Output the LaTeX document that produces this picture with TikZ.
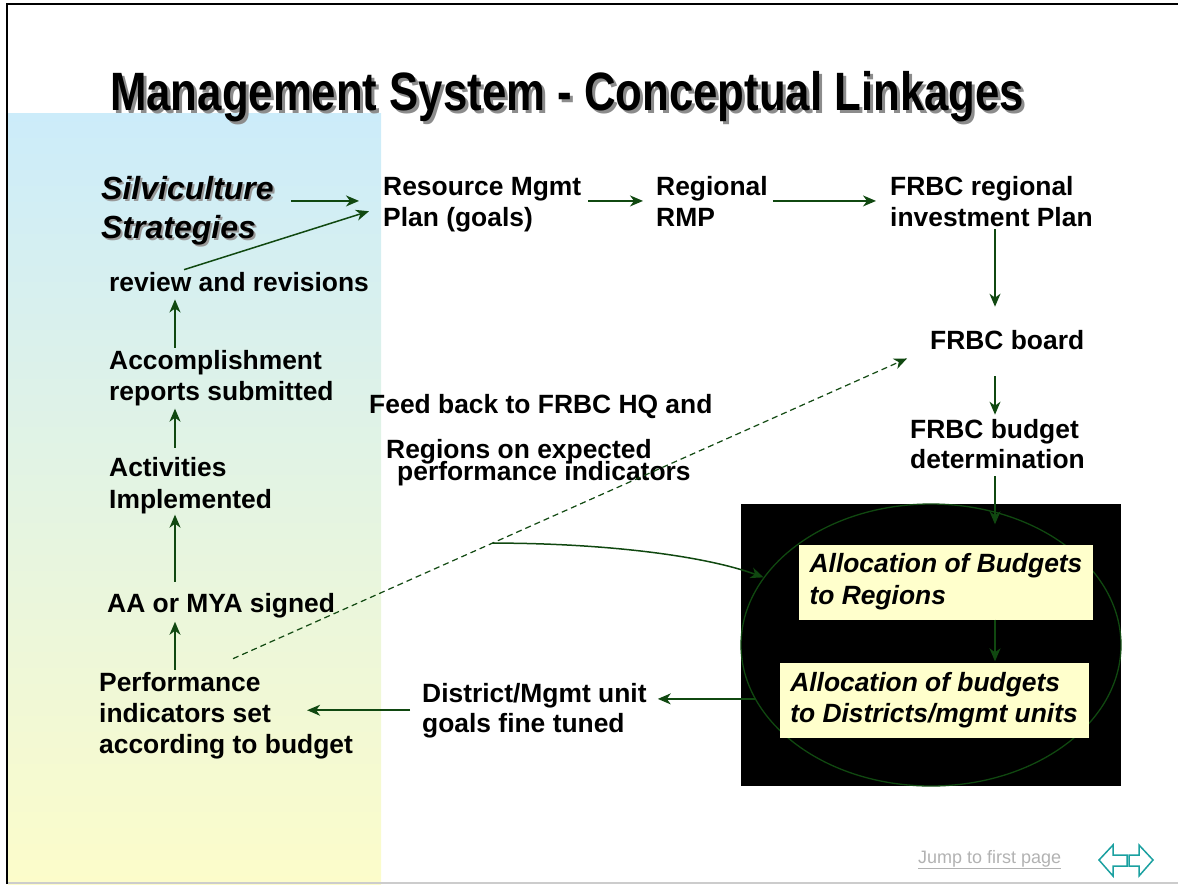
\documentclass[tikz,border=0pt]{standalone}
\usepackage{graphicx}
\usepackage{fontspec}
\setmainfont{Liberation Sans}
\usetikzlibrary{arrows.meta,shapes.geometric}

\definecolor{linkgreen}{RGB}{16,72,16}
\definecolor{panelblue}{RGB}{204,236,250}
\definecolor{panelyellow}{RGB}{252,252,202}
\definecolor{boxyellow}{RGB}{255,255,204}
\definecolor{navteal}{RGB}{26,160,160}
\definecolor{jumpgray}{RGB}{178,178,178}

\newcommand\bodyfont{\fontsize{26.4}{31}\selectfont\bfseries}
\newcommand\silvfont{\fontsize{32}{39}\selectfont\bfseries\itshape}
\newcommand\headfont{\fontsize{54}{60}\selectfont\bfseries}

\tikzset{
  lbl/.style={anchor=base west, inner sep=0pt, align=left, font=\bodyfont},
  link/.style={draw=linkgreen, line width=1.5pt, -{Stealth[length=13pt,width=11pt,inset=4pt]}},
  allocbox/.style={fill=boxyellow, inner sep=0pt, align=left, minimum height=75pt, font=\bodyfont\itshape},
}

\begin{document}
\begin{tikzpicture}[x=1pt,y=-1pt]
\useasboundingbox (0,0) rectangle (1178,884);

\fill[top color=panelblue, bottom color=panelyellow] (8,113) rectangle (381,884);
\draw[black, line width=2pt] (7,884) -- (7,4) -- (1178,4);
\draw[black!20, line width=1.5pt] (8,883) -- (1178,883);

\node[anchor=base west, inner sep=0pt, text=black!45, font=\headfont] at (113,113) {\scalebox{0.81}[1]{Management System - Conceptual Linkages}};
\node[anchor=base west, inner sep=0pt, font=\headfont] (title) at (110,110) {\scalebox{0.81}[1]{Management System - Conceptual Linkages}};

\fill[black] (741,504) rectangle (1121,786);
\node[draw=linkgreen, line width=1.3pt, ellipse, inner sep=0pt, minimum width=380pt, minimum height=282pt] (alloc) at (931,645) {};
\node[allocbox, minimum width=294pt] (allocreg) at (946,582) {Allocation of Budgets\\[1pt]to Regions};
\node[allocbox, minimum width=309pt] (allocdist) at (934,700) {Allocation of budgets\\to Districts/mgmt units};

\node[lbl, text=black!40, font=\silvfont] at (103,240) {Silviculture\\Strategies};
\node[lbl, font=\silvfont] (silv) at (101,238) {Silviculture\\Strategies};
\node[lbl] (rmp) at (383,226) {Resource Mgmt\\Plan (goals)};
\node[lbl] (rrmp) at (656,226) {Regional\\RMP};
\node[lbl] (frip) at (890,226) {FRBC regional\\investment Plan};
\node[lbl] (review) at (109,291) {review and revisions};
\node[lbl] (accomp) at (109,400) {Accomplishment\\reports submitted};
\node[lbl] (activ) at (109,508) {Activities\\[1pt]Implemented};
\node[lbl] (aamya) at (107,612) {AA or MYA signed};
\node[lbl] (perf) at (99,753) {Performance\\indicators set\\according to budget};
\node[lbl] (board) at (930,349) {FRBC board};
\node[lbl] (budget) at (910,468) {FRBC budget\\[-1pt]determination};
\node[lbl] (feed) at (369,413) {Feed back to FRBC HQ and};
\node[lbl] (feedb) at (386,480) {Regions on expected\\[-9pt]\hspace*{11pt}performance indicators};
\node[lbl] (district) at (422,732) {District/Mgmt unit\\[-1pt]goals fine tuned};

\coordinate (lcol) at (175,0);
\coordinate (rcol) at (995,0);

\draw[link, shorten <=17pt, shorten >=24pt] (silv.east |- rrmp.west) -- (rmp.west |- rrmp.west);
\draw[link] ([shift={(75,-2)}]review.north west) -- ([shift={(-14,7)}]rmp.west);
\draw[link, shorten <=7pt, shorten >=13pt] (rmp.east |- rrmp.west) -- (rrmp.west);
\draw[link, shorten <=5pt, shorten >=14pt] (rrmp.east) -- (rrmp.east -| frip.west);

\draw[link, shorten <=2pt, shorten >=8pt] (accomp.north -| lcol) -- (review.south -| lcol);
\draw[link, shorten <=9pt, shorten >=3pt] (activ.north -| lcol) -- (accomp.south -| lcol);
\draw[link, shorten <=11pt, shorten >=1pt] (aamya.north -| lcol) -- (activ.south -| lcol);
\draw[link, shorten <=2pt, shorten >=4pt] (perf.north -| lcol) -- (aamya.south -| lcol);

\draw[link, shorten <=3pt, shorten >=23pt] (frip.south -| rcol) -- (board.north -| rcol);
\draw[link, shorten <=27pt, shorten >=4pt] (board.south -| rcol) -- (budget.north -| rcol);
\draw[link, shorten <=8pt, shorten >=20pt] (budget.south -| rcol) -- (allocreg.north -| rcol);
\draw[link, shorten >=1pt] (allocreg.south -| rcol) -- (allocdist.north -| rcol);

\draw[link, shorten >=11pt] (alloc.197) -- (alloc.197 -| district.east);
\draw[link, shorten <=12pt, shorten >=-46pt] (district.west) -- (district.west -| perf.east);

\draw[link, line width=1.2pt, dash pattern=on 6pt off 4pt] ([shift={(134,-13)}]perf.north west) -- coordinate[pos=0.385] (fork) ([shift={(-23,9)}]board.south west);
\draw[link] (fork) .. controls +(110,0) and +(-60,-22) .. (alloc.158);

\node[anchor=base west, inner sep=0pt, text=jumpgray, font=\fontsize{18}{20}\selectfont] (jump) at (918,863) {\underline{Jump to first page}};
\draw[navteal, line width=1.5pt, line join=miter] (1099,860) -- (1113,845) -- (1113,855) -- (1127,855) -- (1127,866) -- (1113,866) -- (1113,876) -- cycle;
\draw[navteal, line width=1.5pt, line join=miter] (1153,860) -- (1139,845) -- (1139,855) -- (1129,855) -- (1129,866) -- (1139,866) -- (1139,876) -- cycle;
\end{tikzpicture}
\end{document}
